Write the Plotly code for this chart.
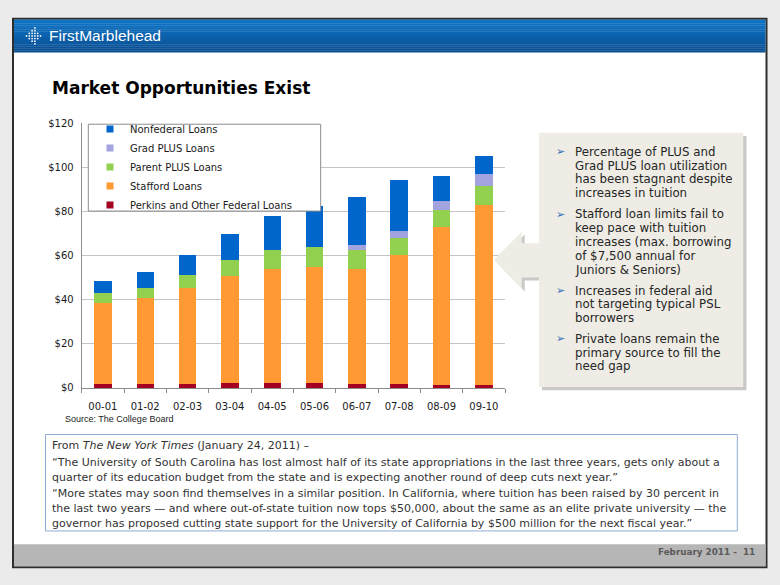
import plotly.graph_objects as go

W, H = 780, 585

# ---------------- data ----------------
categories = ["00-01", "01-02", "02-03", "03-04", "04-05", "05-06", "06-07", "07-08", "08-09", "09-10"]
perkins = [1.8, 1.7, 1.9, 2.1, 2.1, 2.1, 1.9, 1.7, 1.3, 1.5]
stafford = [36.7, 39.0, 43.6, 48.7, 52.0, 52.9, 52.2, 58.4, 71.7, 81.2]
parent_plus = [4.4, 4.8, 5.7, 7.3, 8.3, 9.0, 8.6, 7.7, 7.7, 8.9]
grad_plus = [0, 0, 0, 0, 0, 0, 2.2, 3.4, 4.0, 5.1]
nonfederal = [5.7, 6.9, 9.2, 11.8, 15.7, 18.5, 21.5, 23.0, 11.3, 8.6]

series_names = ["Perkins and Other Federal Loans", "Stafford Loans", "Parent PLUS Loans",
                "Grad PLUS Loans", "Nonfederal Loans"]
series_values = [perkins, stafford, parent_plus, grad_plus, nonfederal]
series_colors = ["#A50021", "#FF9933", "#92D050", "#A3A3E0", "#0066CC"]
y_tickvals = [0, 20, 40, 60, 80, 100, 120]
y_ticktext = ["$0", "$20", "$40", "$60", "$80", "$100", "$120"]

title_text = "Market Opportunities Exist"
source_text = "Source: The College Board"
bullets = [
    ["Percentage of PLUS and", "Grad PLUS loan utilization", "has been stagnant despite", "increases in tuition"],
    ["Stafford loan limits fail to", "keep pace with tuition", "increases (max. borrowing",
     "of $7,500 annual for", "Juniors & Seniors)"],
    ["Increases in federal aid", "not targeting typical PSL", "borrowers"],
    ["Private loans remain the", "primary source to fill the", "need gap"],
]
bullet_line_y = [[148.3, 162.7, 176.7, 191.0],
                 [212.3, 226.7, 240.7, 255.0, 269.3],
                 [290.0, 304.0, 318.3],
                 [339.0, 353.3, 367.3]]
quote_lines = [
    "From <i>The New York Times</i> (January 24, 2011) \u2013",
    "\u201cThe University of South Carolina has lost almost half of its state appropriations in the last three years, gets only about a",
    "quarter of its education budget from the state and is expecting another round of deep cuts next year.\u201d",
    "\u201cMore states may soon find themselves in a similar position. In California, where tuition has been raised by 30 percent in",
    "the last two years \u2014 and where out-of-state tuition now tops $50,000, about the same as an elite private university \u2014 the",
    "governor has proposed cutting state support for the University of California by $500 million for the next fiscal year.\u201d",
]
quote_line_y = [448, 465.5, 480.5, 497, 512, 527]
footer_text = "February 2011 -&nbsp; 11"
logo_text = "FirstMarblehead"


def px(x):
    return x / W


def py(y):
    return 1 - y / H


fig = go.Figure()
for name, vals, color in zip(series_names, series_values, series_colors):
    fig.add_trace(go.Bar(x=categories, y=vals, name=name, showlegend=False,
                         marker=dict(color=color, line=dict(width=0))))
for name, color in reversed(list(zip(series_names, series_colors))):
    fig.add_trace(go.Scatter(x=[None], y=[None], mode="markers", name=name, showlegend=True,
                             marker=dict(symbol="square", size=7, color=color)))

shapes = []


def rect(x0, y0, x1, y1, fill, line=None, lw=0, layer="below"):
    shapes.append(dict(type="rect", xref="paper", yref="paper", x0=px(x0), y0=py(y0), x1=px(x1), y1=py(y1),
                       fillcolor=fill, line=dict(color=line or fill, width=lw), layer=layer))


def poly(pts, fill, layer="above"):
    path = "M " + " L ".join(f"{px(x)},{py(y)}" for x, y in pts) + " Z"
    shapes.append(dict(type="path", xref="paper", yref="paper", path=path, fillcolor=fill,
                       line=dict(width=0), layer=layer))


# slide
rect(13, 13, 766.5, 572, "#FFFFFF", "#2E2E2E", 2)
# header gradient
top_c = (14, 116, 198)
bot_c = (9, 78, 146)
n = 17
y0, y1 = 14, 47
for i in range(n):
    t = i / (n - 1)
    c = tuple(int(round(top_c[k] + (bot_c[k] - top_c[k]) * t)) for k in range(3))
    rect(14, y0 + (y1 - y0) * i / n, 765.5, y0 + (y1 - y0) * (i + 1) / n + 0.3, "rgb(%d,%d,%d)" % c)
# footer
rect(14, 548.5, 765.5, 571, "#B6B6B6")

# logo dots
col_x = [26.5, 29.3, 32.1, 34.9, 37.7, 40.5]
col_n = [1, 3, 5, 7, 3, 1]
for cx, cn in zip(col_x, col_n):
    for j in range(cn):
        cy = 30.5 + (j - (cn - 1) / 2) * 2.7
        r = 0.9
        shapes.append(dict(type="circle", xref="paper", yref="paper", x0=px(cx - r), x1=px(cx + r),
                           y0=py(cy - r), y1=py(cy + r), fillcolor="#FFFFFF", line=dict(width=0), layer="above"))

# right text box with shadow and arrow
box_fill = "#EEECE5"
shadow = "#C9C9C9"
rect(542, 132.5, 746.5, 391.5, shadow, layer="above")
arrow = [(494, 258.5), (521.7, 230), (521.7, 241.7), (540, 241.7), (540, 276.7), (521.7, 276.7), (521.7, 288)]
poly([(x + 3, y + 3) for x, y in arrow], shadow)
poly(arrow, box_fill)
rect(539, 129.3, 743.3, 388.3, box_fill, layer="above")

# legend box
rect(88.3, 120.5, 320.7, 209, "#FFFFFF", "#8C8C8C", 1, layer="above")

# quote box
rect(45.5, 436.7, 737.3, 535, "#FFFFFF", "#8FAAD6", 1, layer="above")

annotations = []


def text(x, y, s, size, color="#222222", family="DejaVu Sans", xanchor="left", bold=False):
    if bold:
        s = "<b>" + s + "</b>"
    annotations.append(dict(xref="paper", yref="paper", x=px(x), y=py(y), text=s, showarrow=False,
                            xanchor=xanchor, yanchor="middle", font=dict(family=family, size=size, color=color),
                            borderpad=0, align="left"))


text(47.5, 30.5, logo_text, 15.5, "#FFFFFF", "Liberation Sans")
text(51, 84, title_text, 17, "#000000", bold=True)
text(64, 421, source_text, 9, "#222222", "Liberation Sans")
for lines, ys in zip(bullets, bullet_line_y):
    text(555, ys[0], "\u27a2", 11, "#2F6BB8")
    for s, y in zip(lines, ys):
        text(574, y, s, 11.8, "#262626")
for s, y in zip(quote_lines, quote_line_y):
    text(51, y, s, 11, "#333333", "DejaVu Sans")
text(756, 556, footer_text, 8.8, "#5A5A5A", xanchor="right", bold=True)

tick_font = dict(family="DejaVu Sans", size=10, color="#1A1A1A")
fig.update_layout(
    width=W, height=H, margin=dict(l=0, r=0, t=0, b=0),
    paper_bgcolor="#EBEBEB", plot_bgcolor="rgba(0,0,0,0)",
    barmode="stack", bargap=0.59,
    xaxis=dict(type="category", domain=[px(81.7), px(505)], showline=True, linecolor="#8C8C8C", linewidth=1,
               ticks="outside", tickson="boundaries", ticklen=4, tickcolor="#8C8C8C",
               tickfont=tick_font, showgrid=False, fixedrange=True, ticklabelstandoff=9),
    yaxis=dict(domain=[py(389.3), py(119.3)], range=[0, 120], tickmode="array", tickvals=y_tickvals,
               ticktext=y_ticktext, showline=True, linecolor="#8C8C8C", linewidth=1, gridcolor="#C4C4C4",
               gridwidth=1, zeroline=False, ticks="", tickfont=tick_font, fixedrange=True,
               ticklabelstandoff=5),
    legend=dict(x=px(90), y=py(110.5), xanchor="left", yanchor="top", bgcolor="rgba(0,0,0,0)",
                borderwidth=0, font=dict(family="DejaVu Sans", size=10, color="#1A1A1A"),
                traceorder="normal", itemwidth=30),
    shapes=shapes, annotations=annotations,
)

fig.write_html("out.html", config={"displayModeBar": False},
               post_script="document.body.style.margin='0';document.body.style.background='#EBEBEB';")
